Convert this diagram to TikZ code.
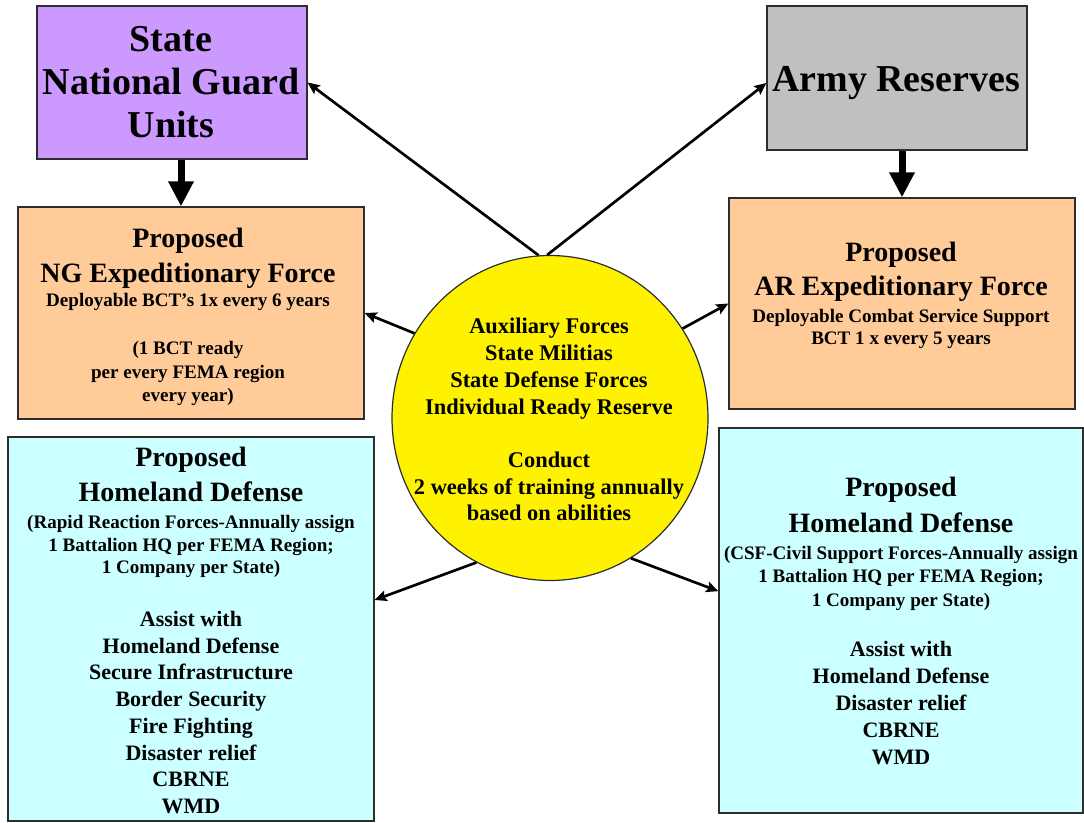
\documentclass[tikz,border=0pt]{standalone}
\usepackage{fontspec}
\setmainfont{Liberation Serif}
\usetikzlibrary{shapes.geometric,arrows.meta}
\definecolor{ngpurple}{RGB}{204,153,255}
\definecolor{peach}{RGB}{255,204,153}
\definecolor{lcyan}{RGB}{204,255,255}
\definecolor{rgray}{RGB}{192,192,192}
\definecolor{edgec}{RGB}{45,45,45}
\begin{document}
\begin{tikzpicture}[x=0.75pt,y=-0.75pt,
  box/.style={draw=edgec,line width=0.9pt,inner sep=0pt,rectangle},
  txt/.style={inner sep=0pt,text=black,anchor=base},
  big/.style={font=\fontsize{28.5}{33}\selectfont\bfseries},
  ttl/.style={font=\fontsize{21}{25}\selectfont\bfseries},
  sml/.style={font=\fontsize{14.3}{18}\selectfont\bfseries},
  crc/.style={font=\fontsize{16.8}{20}\selectfont\bfseries},
  lst/.style={font=\fontsize{16.5}{20}\selectfont\bfseries},
  link/.style={line width=2pt,-{Stealth[length=9pt,width=8pt,inset=1.5pt]}},
  fat/.style={line width=5.25pt,-{Triangle[length=18.75pt,width=18pt]}}]
\useasboundingbox (0,0) rectangle (1084,822);
\fill[white] (0,0) rectangle (1084,822);

% boxes
\node[box,fill=ngpurple,minimum width=202.5pt,minimum height=114.75pt] (ng) at (172,82.5) {};
\node[box,fill=rgray,minimum width=195pt,minimum height=108pt] (ar) at (897,78) {};
\node[box,fill=peach,minimum width=259.5pt,minimum height=159pt] (ngexp) at (191,313) {};
\node[box,fill=peach,minimum width=259.5pt,minimum height=158.25pt] (arexp) at (902,303.5) {};
\node[box,fill=lcyan,minimum width=274.5pt,minimum height=288pt] (lhd) at (191,629) {};
\node[box,fill=lcyan,minimum width=273pt,minimum height=288.75pt] (rhd) at (901,620.5) {};
\node[draw=edgec,line width=0.9pt,fill=yellow,ellipse,inner sep=0pt,minimum width=237pt,minimum height=243.75pt] (circ) at (550,418) {};

% texts
\foreach \t [count=\i from 0] in {State,National Guard,Units}
  \node[txt,big] (ngt\i) at (171,51+43*\i) {\t};
\node[txt,big] (art) at (896,91) {Army Reserves};

\foreach \y/\t [count=\i] in {247/Proposed,282/NG Expeditionary Force}
  \node[txt,ttl] (ngexpt\i) at (188,\y) {\t};
\foreach \y/\t [count=\i] in {306/Deployable BCT’s 1x every 6 years,354/(1 BCT ready,378/per every FEMA region,401/every year)}
  \node[txt,sml] (ngexps\i) at (188,\y) {\t};

\foreach \y/\t [count=\i] in {261/Proposed,295.5/AR Expeditionary Force}
  \node[txt,ttl] (arexpt\i) at (901,\y) {\t};
\foreach \y/\t [count=\i] in {322/Deployable Combat Service Support,344/BCT 1 x every 5 years}
  \node[txt,sml] (arexps\i) at (901,\y) {\t};

\foreach \y/\t [count=\i] in {333.5/Auxiliary Forces,360.5/State Militias,387.5/State Defense Forces,414.5/Individual Ready Reserve,467.5/Conduct,494.5/2 weeks of training annually,520.5/based on abilities}
  \node[txt,crc] (circt\i) at (549,\y) {\t};

\foreach \y/\t [count=\i] in {466/Proposed,501/Homeland Defense}
  \node[txt,ttl] (lhdt\i) at (191,\y) {\t};
\foreach \y/\t [count=\i] in {528/(Rapid Reaction Forces-Annually assign,551/1 Battalion HQ per FEMA Region;,573/1 Company per State)}
  \node[txt,sml] (lhds\i) at (191,\y) {\t};
\foreach \t [count=\i from 0] in {Assist with,Homeland Defense,Secure Infrastructure,Border Security,Fire Fighting,Disaster relief,CBRNE,WMD}
  \node[txt,lst] (lhdl\i) at (191,626.5+26.7*\i) {\t};

\foreach \y/\t [count=\i] in {496/Proposed,532/Homeland Defense}
  \node[txt,ttl] (rhdt\i) at (901,\y) {\t};
\foreach \y/\t [count=\i] in {559/(CSF-Civil Support Forces-Annually assign,582/1 Battalion HQ per FEMA Region;,606/1 Company per State)}
  \node[txt,sml] (rhds\i) at (901,\y) {\t};
\foreach \t [count=\i from 0] in {Assist with,Homeland Defense,Disaster relief,CBRNE,WMD}
  \node[txt,lst] (rhdl\i) at (901,656.5+27*\i) {\t};

% connectors
\draw[fat] ([xshift=6.75pt]ng.south) -- ([xshift=6.75pt]ng.south |- ngexp.north);
\draw[fat] ([xshift=3.75pt]ar.south) -- ([xshift=3.75pt]ar.south |- arexp.north);
\draw[link] (circ.94) -- (ng.east);
\draw[link] (circ.91) -- ([yshift=-3.75pt]ar.west);
\draw[link] (circ.148) -- (ngexp.east);
\draw[link] (circ.34) -- (arexp.west);
\draw[link] (circ.243) -- ([yshift=21.75pt]lhd.east);
\draw[link] (circ.300) -- ([yshift=22pt]rhd.west);
\end{tikzpicture}
\end{document}
